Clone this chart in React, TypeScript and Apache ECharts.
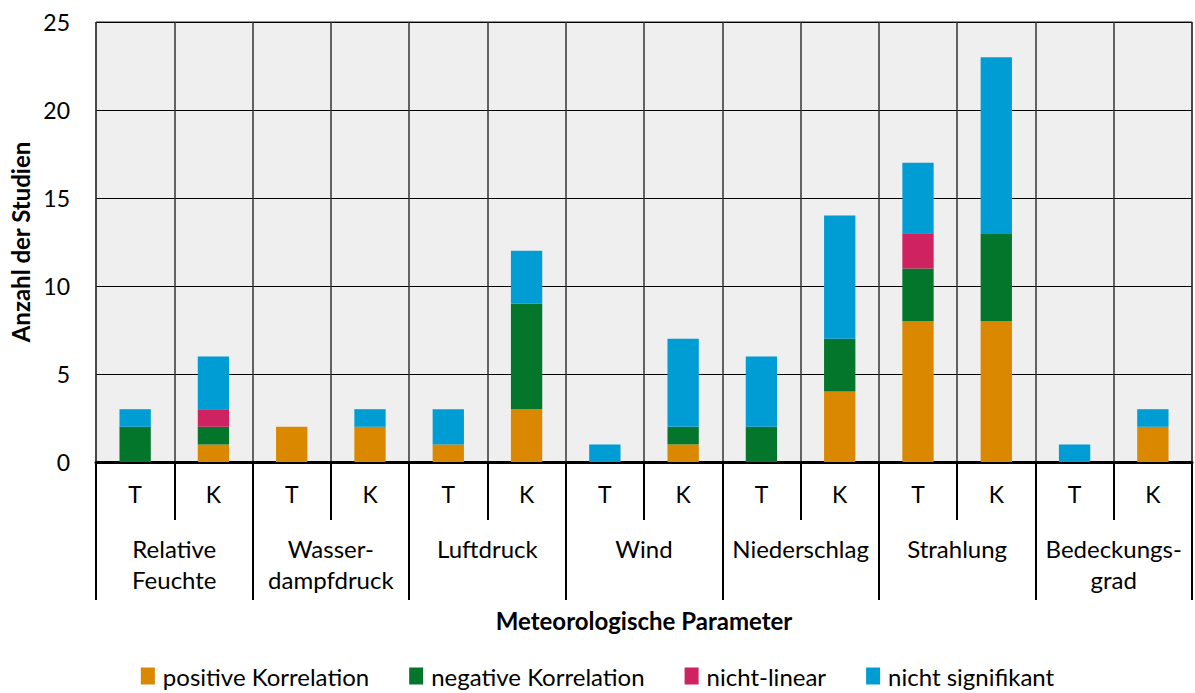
import React, { useEffect, useRef } from "react";
import * as echarts from "echarts";

const subCategories = ["T", "K", "T", "K", "T", "K", "T", "K", "T", "K", "T", "K", "T", "K"];
const groupCategories = [
  "Relative\nFeuchte",
  "Wasser-\ndampfdruck",
  "Luftdruck",
  "Wind",
  "Niederschlag",
  "Strahlung",
  "Bedeckungs-\ngrad",
];
const positiveKorrelation = [0, 1, 2, 2, 1, 3, 0, 1, 0, 4, 8, 8, 0, 2];
const negativeKorrelation = [2, 1, 0, 0, 0, 6, 0, 1, 2, 3, 3, 5, 0, 0];
const nichtLinear = [0, 1, 0, 0, 0, 0, 0, 0, 0, 0, 2, 0, 0, 0];
const nichtSignifikant = [1, 3, 0, 1, 2, 3, 1, 5, 4, 7, 4, 10, 1, 1];
const seriesNames = ["positive Korrelation", "negative Korrelation", "nicht-linear", "nicht signifikant"];
const seriesColors = ["#D98800", "#03762B", "#CF2260", "#009DD4"];

const FONT = "Lato, 'Open Sans', sans-serif";

export default function App() {
  const ref = useRef<HTMLDivElement>(null);
  useEffect(() => {
    document.body.style.margin = "0";
    if (!ref.current) return;
    const chart = echarts.init(ref.current, null, { renderer: "svg" });
    const data = [positiveKorrelation, negativeKorrelation, nichtLinear, nichtSignifikant];
    chart.setOption({
      animation: false,
      textStyle: { fontFamily: FONT },
      grid: {
        left: 96,
        right: 3,
        top: 22,
        bottom: 231,
        show: true,
        backgroundColor: "#efefef",
        borderColor: "#222",
        borderWidth: 1,
        containLabel: false,
        outerBoundsMode: "none",
      },
      legend: {
        bottom: 0,
        left: "center",
        itemWidth: 14,
        itemHeight: 17,
        itemGap: 40,
        icon: "rect",
        textStyle: { fontSize: 24, color: "#000", fontFamily: FONT, padding: [0, 0, 0, 3] },
        data: seriesNames,
      },
      xAxis: [
        {
          type: "category",
          data: subCategories,
          gridIndex: 0,
          position: "bottom",
          axisLine: { show: true, lineStyle: { color: "#000", width: 3 } },
          axisTick: { show: true, interval: 0, length: 58, lineStyle: { color: "#000", width: 2 } },
          axisLabel: { interval: 0, margin: 20, fontSize: 23, color: "#000", fontFamily: FONT, lineHeight: 24 },
          splitLine: { show: true, interval: 0, lineStyle: { color: "#333", width: 1.5 } },
        },
        {
          type: "category",
          data: groupCategories,
          gridIndex: 0,
          position: "bottom",
          axisLine: { show: false },
          axisTick: { show: true, interval: 0, length: 138, lineStyle: { color: "#000", width: 2 } },
          axisLabel: {
            interval: 0,
            margin: 71,
            fontSize: 24,
            color: "#000",
            fontFamily: FONT,
            lineHeight: 31,
            verticalAlign: "top",
          },
          splitLine: { show: false },
          name: "Meteorologische Parameter",
          nameLocation: "middle",
          nameGap: 146,
          nameTextStyle: { fontSize: 24, fontWeight: "bold", color: "#000", fontFamily: FONT },
        },
      ],
      yAxis: {
        type: "value",
        min: 0,
        max: 25,
        interval: 5,
        axisLine: { show: false },
        axisTick: { show: false },
        axisLabel: { fontSize: 23, color: "#000", margin: 26, fontFamily: FONT },
        splitLine: { show: true, lineStyle: { color: "#000", width: 1.2 } },
        name: "Anzahl der Studien",
        nameLocation: "middle",
        nameGap: 64,
        nameTextStyle: { fontSize: 24, fontWeight: "bold", color: "#000", fontFamily: FONT },
      },
      series: seriesNames.map((name, i) => ({
        name,
        type: "bar",
        stack: "total",
        xAxisIndex: 0,
        barWidth: "40%",
        itemStyle: { color: seriesColors[i] },
        data: data[i],
      })),
    });
    return () => chart.dispose();
  }, []);
  return <div ref={ref} style={{ width: 1195, height: 693 }} />;
}
